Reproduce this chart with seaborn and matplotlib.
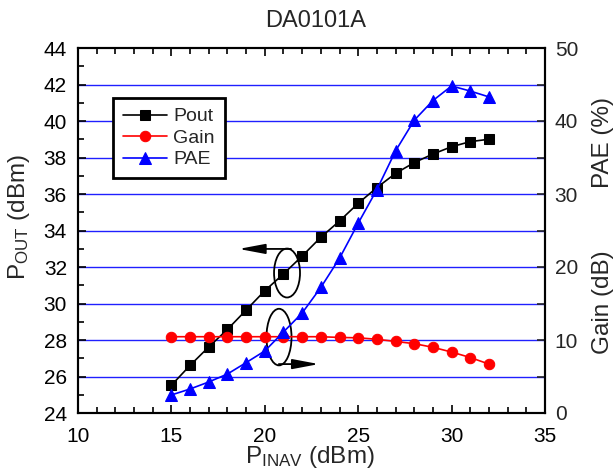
import numpy as np
import pandas as pd
import matplotlib
matplotlib.use("Agg")
import matplotlib.pyplot as plt
from matplotlib.patches import Ellipse
from matplotlib.ticker import MultipleLocator
import seaborn as sns

pin = [15, 16, 17, 18, 19, 20, 21, 22, 23, 24, 25, 26, 27, 28, 29, 30, 31, 32]
pout = [25.52, 26.61, 27.62, 28.58, 29.64, 30.70, 31.62, 32.60, 33.63, 34.52,
        35.49, 36.35, 37.13, 37.72, 38.19, 38.59, 38.87, 39.00]
gain = [10.45, 10.45, 10.45, 10.45, 10.45, 10.45, 10.45, 10.45, 10.45, 10.35,
        10.3, 10.1, 9.8, 9.5, 9.0, 8.35, 7.6, 6.7]
pae = [2.47, 3.29, 4.25, 5.34, 6.9, 8.5, 11.1, 13.7, 17.2, 21.2,
       26.0, 30.6, 35.9, 40.1, 42.8, 44.8, 44.1, 43.3]

df = pd.DataFrame({"pin": pin, "pout": pout, "gain": gain, "pae": pae})

sns.set_style("ticks")
plt.rcParams["font.family"] = ["Liberation Sans", "DejaVu Sans"]
plt.rcParams["mathtext.fontset"] = "custom"
plt.rcParams["mathtext.rm"] = "Liberation Sans"
plt.rcParams["mathtext.it"] = "Liberation Sans"

fig = plt.figure(figsize=(6.16, 4.72), dpi=100)
ax = fig.add_axes([78 / 616, 1 - 413 / 472, 467 / 616, 365 / 472])
ax2 = ax.twinx()

sns.lineplot(data=df, x="pin", y="pout", ax=ax, color="black", marker="s",
             markersize=6.5, markeredgecolor="black", linewidth=1.2, label="Pout", legend=False)
sns.lineplot(data=df, x="pin", y="gain", ax=ax2, color="red", marker="o",
             markersize=7.5, markeredgecolor="red", linewidth=1.2, label="Gain", legend=False)
sns.lineplot(data=df, x="pin", y="pae", ax=ax2, color="blue", marker="^",
             markersize=8.5, markeredgecolor="blue", linewidth=1.2, label="PAE", legend=False)

ax.set_xlim(10, 35)
ax.set_ylim(24, 44)
ax2.set_ylim(0, 50)
ax.set_yticks(np.arange(24, 45, 2))
ax.yaxis.set_minor_locator(MultipleLocator(1))
ax.xaxis.set_major_locator(MultipleLocator(5))
ax.xaxis.set_minor_locator(MultipleLocator(1))
ax2.set_yticks(np.arange(0, 51, 10))
ax2.yaxis.set_minor_locator(MultipleLocator(5))

for y in range(26, 43, 2):
    ax.axhline(y, color="#2020ff", linewidth=1.0, zorder=0)

for a in (ax, ax2):
    for s in a.spines.values():
        s.set_linewidth(1.5)
        s.set_color("black")
ax.tick_params(axis="both", which="both", direction="in", top=True, labelsize=15,
               width=1.2, colors="black")
ax.tick_params(which="major", length=6)
ax.tick_params(which="minor", length=4)
ax.tick_params(axis="x", which="major", pad=10)
ax.tick_params(axis="y", which="major", pad=8)
ax2.tick_params(axis="y", which="major", direction="in", labelsize=15, width=1.2, length=6, pad=7)
ax2.tick_params(axis="y", which="minor", direction="in", width=1.2, length=6)

ax.set_xlabel("")
ax.set_ylabel("")
ax2.set_ylabel("")

fig.text(0.503, (472 - 463) / 472, r"P$_{\mathregular{INAV}}$ (dBm)", fontsize=17.5,
         ha="center", va="baseline")
fig.text(0.031, 0.54, r"P$_{\mathregular{OUT}}$ (dBm)", fontsize=17.5,
         rotation=90, ha="center", va="center")
fig.text(0.513, (472 - 27) / 472, "DA0101A", fontsize=17, ha="center", va="baseline")
fig.text(0.979, 0.698, "PAE (%)", rotation=90, fontsize=17.5, ha="center", va="center")
fig.text(0.979, 0.36, "Gain (dB)", rotation=90, fontsize=17.5, ha="center", va="center")

# annotations
arrow_style = "-|>,head_length=1.6,head_width=0.3"
ax.add_patch(Ellipse((21.19, 31.67), 1.39, 2.68, fill=False, edgecolor="black", lw=1.3, zorder=5))
ax.annotate("", xy=(18.6, 32.99), xytext=(21.4, 32.99),
            arrowprops=dict(arrowstyle=arrow_style, color="black", lw=1.3,
                            shrinkA=0, shrinkB=0))
ax.add_patch(Ellipse((20.76, 28.16), 1.34, 3.1, fill=False, edgecolor="black", lw=1.3, zorder=5))
ax.annotate("", xy=(22.9, 26.68), xytext=(20.75, 26.68),
            arrowprops=dict(arrowstyle=arrow_style, color="black", lw=1.3,
                            shrinkA=0, shrinkB=0))

h1, l1 = ax.get_legend_handles_labels()
h2, l2 = ax2.get_legend_handles_labels()
leg = ax2.legend(h1 + h2, l1 + l2, loc="upper left",
                 bbox_to_anchor=((113 - 78) / 467, (413 - 98) / 365),
                 borderaxespad=0, fontsize=14, frameon=True, fancybox=False,
                 edgecolor="black", handlelength=2.3, handletextpad=0.3,
                 labelspacing=0.2, borderpad=0.5)
leg.get_frame().set_linewidth(2)
leg.get_frame().set_alpha(1)

fig.savefig("out.png", dpi=100)
